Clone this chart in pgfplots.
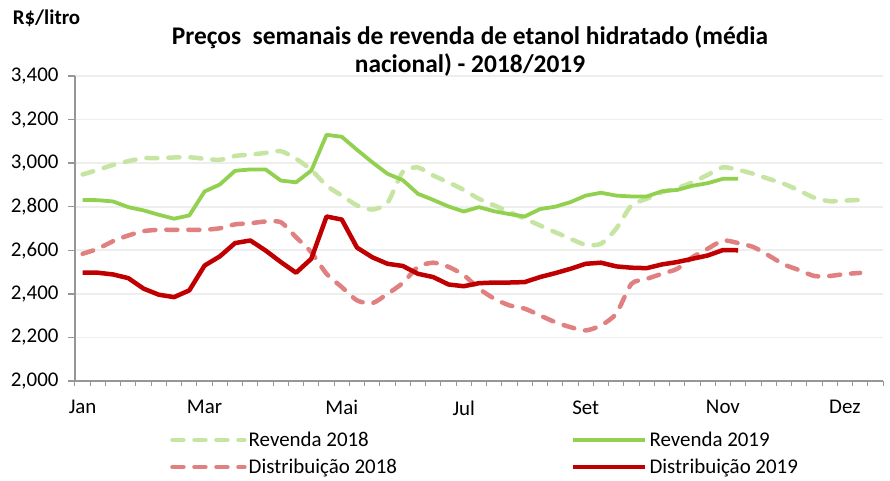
\documentclass[border=0pt]{standalone}
\usepackage{fontspec}
\setmainfont{Carlito}
\usepackage{pgfplots}
\usepackage{pgfplotstable}
\pgfplotsset{compat=1.18}
\definecolor{rev18}{RGB}{198,229,163}
\definecolor{rev19}{RGB}{146,208,80}
\definecolor{dis18}{RGB}{224,128,128}
\definecolor{dis19}{RGB}{192,0,0}
\definecolor{axgray}{RGB}{150,150,150}
\definecolor{gridgray}{RGB}{238,238,238}

\pgfplotstableread{
i v
0 2948
1 2969
2 2992
3 3009
4 3023
5 3023
6 3026
7 3027
8 3020
9 3015
10 3033
11 3039
12 3047
13 3055
14 3020
15 2969
16 2897
17 2851
18 2806
19 2787
20 2818
21 2960
22 2980
23 2943
24 2912
25 2877
26 2836
27 2806
28 2775
29 2745
30 2714
31 2683
32 2653
33 2625
34 2630
35 2699
36 2806
37 2836
38 2867
39 2885
40 2912
41 2946
42 2981
43 2969
44 2951
45 2928
46 2905
47 2874
48 2841
49 2825
50 2828
51 2831
}\revA

\pgfplotstableread{
i v
0 2831
1 2830
2 2824
3 2798
4 2783
5 2763
6 2745
7 2760
8 2870
9 2902
10 2965
11 2971
12 2971
13 2920
14 2912
15 2966
16 3130
17 3121
18 3061
19 3004
20 2951
21 2922
22 2859
23 2831
24 2801
25 2778
26 2798
27 2779
28 2766
29 2755
30 2789
31 2800
32 2821
33 2851
34 2864
35 2851
36 2847
37 2847
38 2871
39 2877
40 2896
41 2908
42 2928
43 2928
}\revB

\pgfplotstableread{
i v
0 2584
1 2607
2 2642
3 2668
4 2688
5 2694
6 2694
7 2694
8 2694
9 2701
10 2719
11 2724
12 2732
13 2729
14 2660
15 2591
16 2492
17 2431
18 2370
19 2357
20 2400
21 2450
22 2524
23 2543
24 2524
25 2486
26 2424
27 2378
28 2347
29 2332
30 2301
31 2270
32 2247
33 2232
34 2255
35 2309
36 2446
37 2469
38 2492
39 2515
40 2568
41 2607
42 2645
43 2633
44 2615
45 2576
46 2535
47 2509
48 2482
49 2482
50 2491
51 2496
}\disA

\pgfplotstableread{
i v
0 2497
1 2497
2 2489
3 2472
4 2424
5 2396
6 2385
7 2416
8 2530
9 2572
10 2633
11 2645
12 2599
13 2546
14 2497
15 2561
16 2755
17 2741
18 2612
19 2568
20 2538
21 2528
22 2492
23 2477
24 2443
25 2435
26 2449
27 2452
28 2452
29 2454
30 2477
31 2495
32 2515
33 2538
34 2543
35 2526
36 2520
37 2518
38 2535
39 2546
40 2561
41 2576
42 2601
43 2600
}\disB

\begin{document}
\begin{tikzpicture}[x=1bp,y=1bp]
\path[use as bounding box] (-75,-100) rectangle (815,381);
\begin{axis}[
  at={(0,0)}, anchor=south west,
  scale only axis, width=808bp, height=305bp,
  xmin=-0.5, xmax=52.5, ymin=2000, ymax=3400,
  axis x line*=bottom, axis y line*=left,
  axis line style={draw=axgray, line width=1.3bp},
  ytick={2000,2200,...,3400},
  ymajorgrids, grid style={draw=gridgray, line width=1.8bp},
  xtick={0,8,17,25,33,42,50},
  xticklabels={Jan,Mar,Mai,Jul,Set,Nov,Dez},
  minor xtick={-0.5,0.5,...,52.5},
  tick align=outside,
  major tick length=7bp, minor tick length=5bp,
  major x tick style={draw=none},
  minor x tick style={draw=axgray, line width=1bp},
  major y tick style={draw=axgray, line width=1.3bp},
  tick label style={font=\fontsize{21}{25}\selectfont, text=black},
  /pgf/number format/fixed,
  /pgf/number format/1000 sep={,},
  /pgf/number format/assume math mode=true,
  yticklabel style={xshift=-6bp},
  xticklabel style={yshift=-9bp},
  legend columns=2,
  legend cell align=left,
  legend style={at={(axis description cs:0.1176,-0.16)}, anchor=north west,
    draw=none, fill=none, inner sep=0pt,
    font=\fontsize{21}{25}\selectfont, row sep=7bp,
    /tikz/every even column/.append style={column sep=172bp}},
  legend image code/.code={\draw[#1] (0bp,0bp) -- (72bp,0bp);},
  clip=false,
]
\addplot[rev18, line width=4.5bp, line cap=round, dash pattern=on 11bp off 11bp, smooth, tension=0.4] table[x=i,y=v] {\revA};
\addlegendentry{Revenda 2018}
\addplot[rev19, line width=3.8bp, line join=round] table[x=i,y=v] {\revB};
\addlegendentry{Revenda 2019}
\addplot[dis18, line width=4.5bp, line cap=round, dash pattern=on 11bp off 11bp, smooth, tension=0.4] table[x=i,y=v] {\disA};
\addlegendentry{Distribuição 2018}
\addplot[dis19, line width=4.5bp, line join=round] table[x=i,y=v] {\disB};
\addlegendentry{Distribuição 2019}
\end{axis}
\node[font=\bfseries\fontsize{25.5}{30}\selectfont] at (395,344) {Preços\ \ semanais de revenda de etanol hidratado (média};
\node[font=\bfseries\fontsize{25.5}{30}\selectfont] at (395,316) {nacional) - 2018/2019};
\node[font=\bfseries\fontsize{21}{25}\selectfont] at (-28.5,363) {R\$/litro};
\end{tikzpicture}
\end{document}
